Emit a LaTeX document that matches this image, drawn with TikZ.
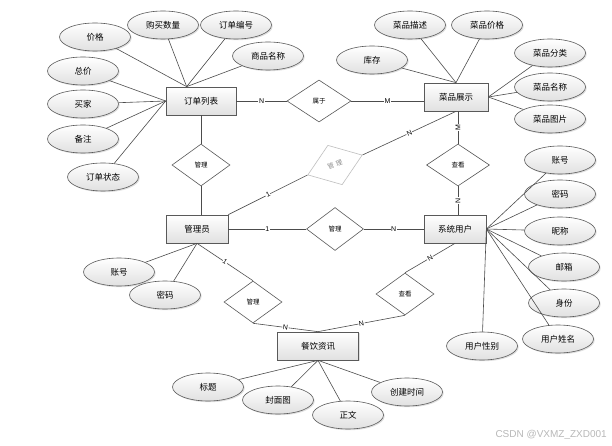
\documentclass[tikz,border=0pt]{standalone}
\usepackage{fontspec}
\setmainfont{Noto Sans CJK SC}
\newfontfamily\lab{Liberation Sans}
\usetikzlibrary{shapes.geometric,shadows}
\begin{document}
\begin{tikzpicture}[x=1pt,y=-1pt,
  every node/.style={inner sep=0pt},
  line/.style={draw=black!70, line width=0.6pt},
  shad/.style={drop shadow={shadow xshift=1.2pt,shadow yshift=-1.2pt,opacity=0.25}},
  entity/.style={rectangle, draw=black!65, line width=0.7pt, top color=white, bottom color=black!12, shad, minimum height=28pt, font=\fontsize{8.5}{10}\selectfont},
  attr/.style={ellipse, draw=black!65, line width=0.6pt, top color=white, bottom color=black!12, shad, minimum width=71pt, minimum height=28pt, font=\fontsize{8.5}{10}\selectfont},
  rel/.style={diamond, draw=black!65, line width=0.6pt, fill=white, minimum width=58pt, minimum height=42pt, font=\fontsize{6.5}{7}\selectfont},
  card/.style={fill=white, inner sep=0.6pt, font=\lab\fontsize{7}{8}\selectfont}
]
\useasboundingbox (0,0) rectangle (612,446);
\fill[white] (0,0) rectangle (612,446);

% entities
\node[entity, minimum width=70pt] (ol) at (201,101) {订单列表};
\node[entity, minimum width=64pt] (dish) at (456,97) {菜品展示};
\node[entity, minimum width=62pt] (adm) at (197,229) {管理员};
\node[entity, minimum width=62pt] (sys) at (455,229) {系统用户};
\node[entity, minimum width=81pt] (news) at (318,346) {餐饮资讯};

% relationships
\node[rel, minimum width=64pt] (belong) at (319,101) {属于};
\node[rel] (mg1) at (201,165) {管理};
\node[rel, draw=black!25, text=black!45, rotate=20] (mg0) at (335,165) {管\hspace{2.2pt}理};
\node[rel, minimum width=63pt] (ck1) at (458,165) {查看};
\node[rel, minimum width=57pt, minimum height=43pt] (mg2) at (335,229) {管理};
\node[rel] (mg3) at (253,302) {管理};
\node[rel] (ck2) at (405,294) {查看};

% attributes of 订单列表
\node[attr] (price) at (95,37) {价格};
\node[attr] (qty) at (163,25) {购买数量};
\node[attr] (ono) at (236,25) {订单编号};
\node[attr] (pname) at (268,56) {商品名称};
\node[attr] (total) at (83,71) {总价};
\node[attr] (buyer) at (83,104) {买家};
\node[attr] (note) at (83,139) {备注};
\node[attr] (status) at (103,177) {订单状态};

% attributes of 菜品展示
\node[attr] (desc) at (410,25) {菜品描述};
\node[attr] (dprice) at (487,25) {菜品价格};
\node[attr] (stock) at (372,60) {库存};
\node[attr] (cat) at (550,53) {菜品分类};
\node[attr] (dname) at (550,87) {菜品名称};
\node[attr] (pic) at (550,119) {菜品图片};

% attributes of 系统用户
\node[attr] (uacc) at (560,160) {账号};
\node[attr] (upw) at (560,194) {密码};
\node[attr] (nick) at (560,231) {昵称};
\node[attr] (mail) at (564,267) {邮箱};
\node[attr] (role) at (564,303) {身份};
\node[attr] (uname) at (558,339) {用户姓名};
\node[attr] (gender) at (482,346) {用户性别};

% attributes of 管理员
\node[attr] (aacc) at (119,272) {账号};
\node[attr] (apw) at (165,295) {密码};

% attributes of 餐饮资讯
\node[attr] (title) at (208,387) {标题};
\node[attr] (cover) at (278,400) {封面图};
\node[attr] (body) at (348,415) {正文};
\node[attr] (ctime) at (407,392) {创建时间};

% attribute connectors
\coordinate (olT) at ([xshift=21pt]ol.north west);
\foreach \a in {price,qty,ono,pname} \draw[line] (\a) -- (olT);
\foreach \a in {total,buyer,note,status} \draw[line] (\a) -- (ol.west);
\foreach \a in {desc,dprice,stock} \draw[line] (\a) -- (dish.north);
\foreach \a in {cat,dname,pic} \draw[line] (\a) -- (dish.east);
\foreach \a in {uacc,upw,nick,mail,role,uname,gender} \draw[line] (\a) -- (sys.east);
\foreach \a in {aacc,apw} \draw[line] (\a) -- (adm.south);
\foreach \a in {title,cover,body,ctime} \draw[line] (\a) -- (news.south);

% relationship connectors
\draw[line] (ol.east) -- node[card]{N} (belong.west);
\draw[line] (belong.east) -- node[card]{M} (dish.west |- belong.east);
\draw[line] (ol.south) -- (mg1.north);
\draw[line] (mg1.south) -- (mg1.south |- adm.north);
\draw[line] (adm.north east) -- node[card,sloped]{1} (mg0.west);
\draw[line] (mg0.east) -- node[card,sloped]{N} (dish.south);
\draw[line] (adm.east) -- node[card]{1} (mg2.west);
\draw[line] (mg2.east) -- node[card]{N} (sys.west);
\draw[line] (ck1.north |- dish.south) -- node[card,rotate=90]{M} (ck1.north);
\draw[line] (ck1.south) -- node[card,rotate=90]{N} (ck1.south |- sys.north);
\draw[line] (adm.south) -- node[card,sloped]{1} (mg3.north);
\draw[line] (mg3.south) -- node[card,sloped]{N} (news.north);
\draw[line] (sys.south) -- node[card,sloped]{N} (ck2.north);
\draw[line] (ck2.south) -- node[card,sloped]{N} (news.north);

% watermark
\node[font=\lab\fontsize{10}{12}\selectfont, text=black!28, anchor=east] (wm) at (607,435) {CSDN @VXMZ\_ZXD001};
\end{tikzpicture}
\end{document}
